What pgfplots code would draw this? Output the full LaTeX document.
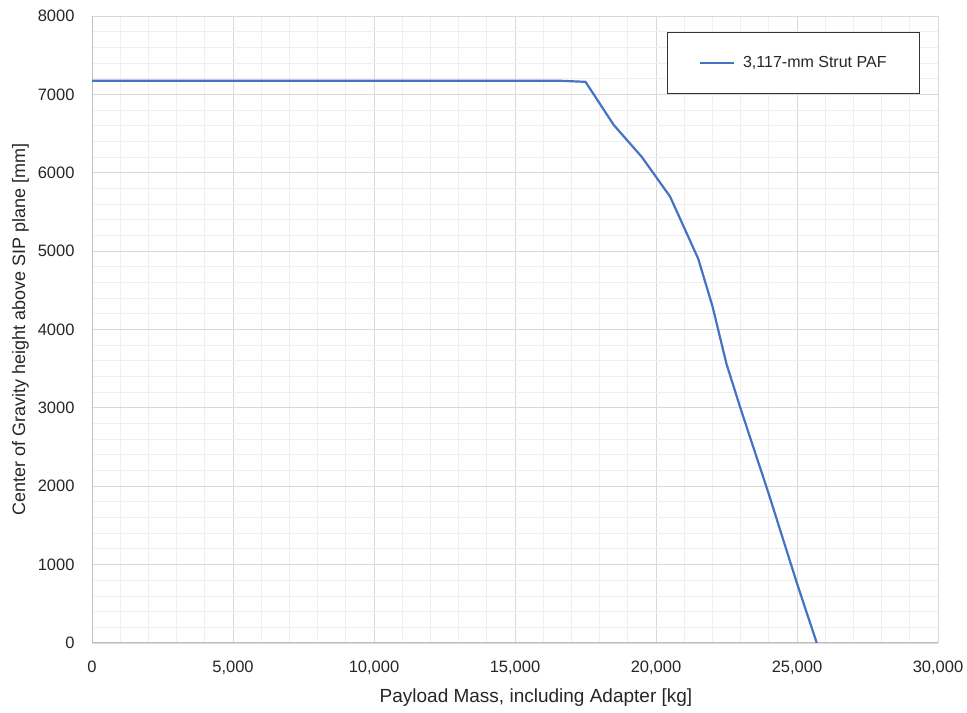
\documentclass[border=0pt]{standalone}
\usepackage{pgfplots}
\pgfplotsset{compat=1.18}
\usepackage{fontspec}
\setmainfont{Liberation Sans}
\definecolor{lineblue}{HTML}{4472C4}
\definecolor{majgrid}{HTML}{D9D9D9}
\definecolor{mingrid}{HTML}{EFEFEF}
\definecolor{axgray}{HTML}{BFBFBF}
\definecolor{txt}{HTML}{262626}
\begin{document}
\begin{tikzpicture}[font=\fontsize{16.5}{19}\selectfont, text=txt]
\begin{axis}[
  scale only axis,
  width=846pt, height=627pt,
  xmin=0, xmax=30000, ymin=0, ymax=8000,
  xtick={0,5000,...,30000},
  ytick={0,1000,...,8000},
  minor x tick num=4,
  minor y tick num=4,
  grid=both,
  major grid style={draw=majgrid, line width=0.9pt},
  minor grid style={draw=mingrid, line width=0.9pt},
  axis line style={draw=none},
  axis x line*=bottom, axis y line*=left,
  tick style={draw=none},
  major tick length=0pt, minor tick length=0pt,
  /pgf/number format/assume math mode=true,
  xticklabel style={/pgf/number format/1000 sep={,}, yshift=-14pt},
  yticklabel style={/pgf/number format/1000 sep={}, xshift=-14pt},
  scaled ticks=false,
  xlabel={Payload Mass, including Adapter [kg]},
  ylabel={Center of Gravity height above SIP plane [mm]},
  xlabel style={font=\fontsize{19}{23}\selectfont, yshift=-8pt, xshift=21pt},
  ylabel style={font=\fontsize{18}{22}\selectfont, yshift=2pt},
  legend style={at={(0.9787,0.9745)}, anchor=north east, draw=black!80, line width=0.9pt,
    inner xsep=31pt, inner ysep=22pt, font=\fontsize{16}{19}\selectfont, text=txt, fill=white},
  legend cell align=left,
  legend image code/.code={\draw[#1] (0pt,0pt) -- (34pt,0pt); \path (40pt,0pt);},
]
\draw[axgray, line width=1pt] (axis cs:0,0) -- (axis cs:30000,0);
\draw[axgray, line width=1pt] (axis cs:0,0) -- (axis cs:0,8000);
\addplot[lineblue, line width=2.2pt, line join=round] coordinates {
(0,7175) (16500,7175) (17500,7160) (18500,6610) (19500,6200) (20500,5695)
(21500,4900) (22000,4300) (22500,3560) (23000,2990) (24000,1900) (25000,760) (25700,0)
};
\addlegendentry{3,117-mm Strut PAF}
\end{axis}
\path (current axis.south west) ++(-92pt,-70pt) coordinate (bbA);
\path (current axis.north east) ++(29pt,16pt) coordinate (bbB);
\useasboundingbox (bbA) rectangle (bbB);
\end{tikzpicture}
\end{document}
